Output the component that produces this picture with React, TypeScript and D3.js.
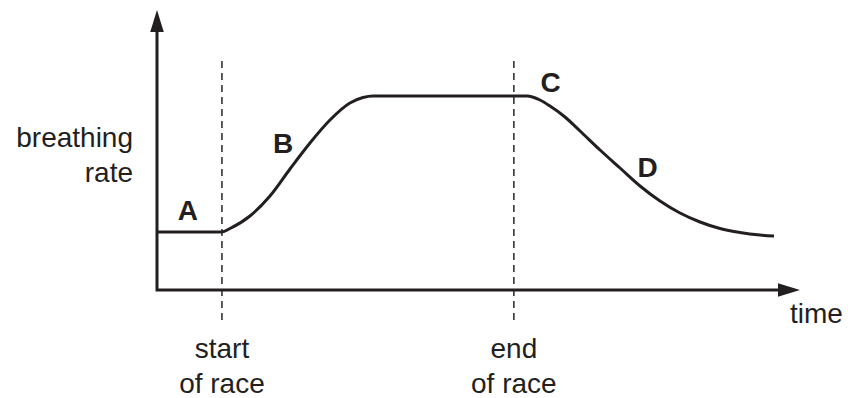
import React from "react";
import * as d3 from "d3";

// Curve samples: time (arbitrary units) and breathing rate (arbitrary units)
const timeValues = [0, 10.1, 11.35, 14.46, 17.57, 20.68, 23.79, 26.9, 30.0, 32.04, 33.59, 57.54, 59.56, 61.12, 63.45, 65.79, 68.9, 72.01, 75.12, 78.23, 81.34, 84.45, 87.56, 90.67, 93.78, 95.96];
const rateValues = [20.71, 20.71, 21.96, 26.43, 33.57, 43.21, 52.5, 60.71, 66.79, 68.75, 69.29, 69.29, 67.86, 65.71, 61.79, 56.79, 50.0, 43.57, 37.14, 31.79, 27.5, 24.29, 21.96, 20.54, 19.64, 19.29];

// Events marked with dashed guides
const eventTimes = [10.1, 55.5];
const eventLabels = [["start", "of race"], ["end", "of race"]];

// Phase labels
const phaseLetters = ["A", "B", "C", "D"];
const phaseTimes = [4.8, 19.6, 61.2, 76.3];
const phaseRates = [25, 48.9, 70.8, 40.4];

const axisTitleX = "time";
const axisTitleY = ["breathing", "rate"];

const W = 848;
const H = 398;
const INK = "#231f20";
const FONT = "'Liberation Sans', Arial, Helvetica, sans-serif";
const FS = 28;

export default function App() {
  const x = d3.scaleLinear().domain([0, 100]).range([157, 800]);
  const y = d3.scaleLinear().domain([0, 100]).range([290, 10]);

  const pts: [number, number][] = timeValues.map((t, i) => [t, rateValues[i]]);
  const line = d3
    .line<[number, number]>()
    .x((d) => x(d[0]))
    .y((d) => y(d[1]))
    .curve(d3.curveMonotoneX);

  const x0 = x(0);
  const y0 = y(0);
  const xEnd = x.range()[1];
  const yEnd = y.range()[1];
  const arrowLen = 22;
  const arrowHalf = 6.8;

  return (
    <svg
      width={W}
      height={H}
      viewBox={`0 0 ${W} ${H}`}
      style={{ position: "absolute", left: 0, top: 0, background: "#fff" }}
    >
      {/* dashed event guides */}
      {eventTimes.map((t, i) => (
        <line
          key={"g" + i}
          x1={x(t)}
          x2={x(t)}
          y1={y(81.8)}
          y2={y(-11.4)}
          stroke="#333"
          strokeWidth={1.6}
          strokeDasharray="7 5"
        />
      ))}

      {/* axes */}
      <path
        d={`M${x0},${yEnd + arrowLen - 1} L${x0},${y0} L${xEnd - arrowLen + 1},${y0}`}
        fill="none"
        stroke={INK}
        strokeWidth={3}
        strokeLinejoin="miter"
        strokeLinecap="butt"
      />
      <polygon
        points={`${x0},${yEnd} ${x0 - arrowHalf},${yEnd + arrowLen} ${x0 + arrowHalf},${yEnd + arrowLen}`}
        fill={INK}
      />
      <polygon
        points={`${xEnd},${y0} ${xEnd - arrowLen},${y0 - arrowHalf} ${xEnd - arrowLen},${y0 + arrowHalf}`}
        fill={INK}
      />

      {/* curve */}
      <path d={line(pts) || ""} fill="none" stroke={INK} strokeWidth={3} strokeLinejoin="round" />

      {/* phase letters */}
      {phaseLetters.map((l, i) => (
        <text
          key={l}
          x={x(phaseTimes[i])}
          y={y(phaseRates[i])}
          textAnchor="middle"
          fontFamily={FONT}
          fontWeight="bold"
          fontSize={FS}
          fill={INK}
        >
          {l}
        </text>
      ))}

      {/* event labels */}
      {eventTimes.map((t, i) => (
        <text
          key={"e" + i}
          x={x(t)}
          textAnchor="middle"
          fontFamily={FONT}
          fontSize={FS}
          fill={INK}
        >
          <tspan x={x(t)} y={358}>{eventLabels[i][0]}</tspan>
          <tspan x={x(t)} y={393}>{eventLabels[i][1]}</tspan>
        </text>
      ))}

      {/* axis titles */}
      <text x={790} y={323} fontFamily={FONT} fontSize={FS} fill={INK}>
        {axisTitleX}
      </text>
      <text textAnchor="end" fontFamily={FONT} fontSize={FS} fill={INK}>
        <tspan x={133} y={147}>{axisTitleY[0]}</tspan>
        <tspan x={133} y={182}>{axisTitleY[1]}</tspan>
      </text>
    </svg>
  );
}
